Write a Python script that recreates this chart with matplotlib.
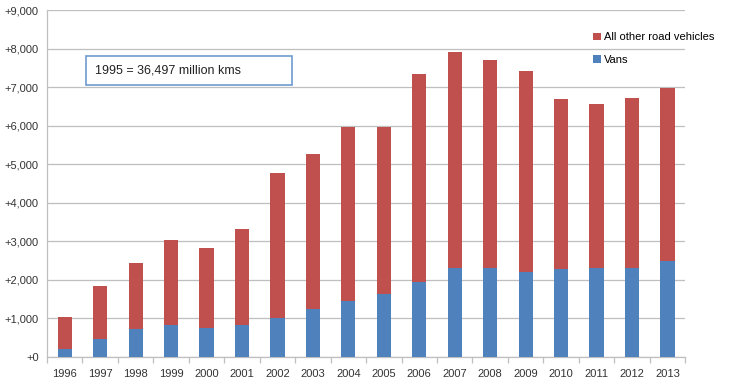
import numpy as np
import matplotlib.pyplot as plt
from matplotlib.patches import Rectangle
from matplotlib.ticker import FuncFormatter, FixedLocator

# Dados: aumento de km percorridos desde 1995 (milhões de km)
anos = ['1996', '1997', '1998', '1999', '2000', '2001', '2002', '2003', '2004',
        '2005', '2006', '2007', '2008', '2009', '2010', '2011', '2012', '2013']
vans = [190, 450, 720, 820, 750, 820, 1000, 1240, 1450,
        1640, 1930, 2300, 2310, 2190, 2280, 2300, 2300, 2490]
total = [1020, 1850, 2435, 3035, 2825, 3330, 4770, 5280, 5970,
         5970, 7350, 7920, 7705, 7430, 6690, 6580, 6725, 6995]
outros = [t - v for t, v in zip(total, vans)]

cor_vans = '#4F81BD'
cor_outros = '#C0504D'
cor_grade = '#BFBFBF'

plt.rcParams['font.family'] = ['Liberation Sans', 'DejaVu Sans']

fig = plt.figure(figsize=(7.31, 3.84), dpi=100)
ax = fig.add_axes([0.0643, 0.071, 0.873, 0.902])

x = np.arange(len(anos))
ax.bar(x, vans, width=0.4, color=cor_vans, label='Vans', zorder=3)
ax.bar(x, outros, width=0.4, bottom=vans, color=cor_outros,
       label='All other road vehicles', zorder=3)

ax.set_xlim(-0.5, len(anos) - 0.5)
ax.set_ylim(0, 9000)
ax.set_yticks(np.arange(0, 9001, 1000))
ax.yaxis.set_major_formatter(FuncFormatter(lambda v, p: '+{:,.0f}'.format(v)))
ax.yaxis.grid(True, color=cor_grade, linewidth=0.9, zorder=0)
ax.tick_params(axis='y', length=0, labelsize=8, pad=6, colors='#333333')

ax.set_xticks(x)
ax.set_xticklabels(anos)
ax.xaxis.set_minor_locator(FixedLocator(np.arange(-0.5, len(anos), 1.0)))
ax.tick_params(axis='x', which='major', length=0, labelsize=8, pad=9, colors='#333333')
ax.tick_params(axis='x', which='minor', length=4, color=cor_grade, width=0.9)

for s in ['top', 'right']:
    ax.spines[s].set_visible(False)
ax.spines['left'].set_color(cor_grade)
ax.spines['bottom'].set_color(cor_grade)
ax.spines['left'].set_linewidth(0.9)
ax.spines['bottom'].set_linewidth(0.9)

# Caixa de texto
ax.add_patch(Rectangle((0.061, 0.784), 0.323, 0.084, transform=ax.transAxes,
                       facecolor='white', edgecolor='#6F9BD0', linewidth=1.2,
                       zorder=5))
ax.text(0.075, 0.826, '1995 = 36,497 million kms', transform=ax.transAxes,
        fontsize=9, va='center', ha='left', color='#222222', zorder=6)

# Legenda
h, l = ax.get_legend_handles_labels()
ax.legend(h[::-1], l[::-1], loc='upper left', bbox_to_anchor=(0.84, 0.965),
          frameon=False, fontsize=8, handlelength=0.7, handleheight=0.7,
          handletextpad=0.3, labelspacing=1.1)

fig.savefig('out.png', dpi=100)
